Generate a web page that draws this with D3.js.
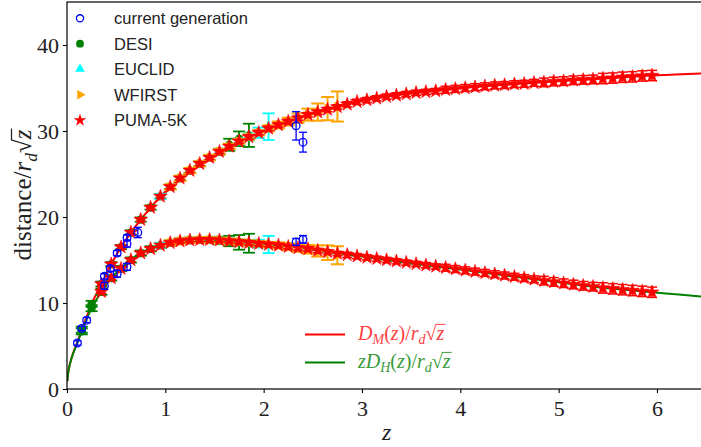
<!DOCTYPE html>
<html><head><meta charset="utf-8">
<script src="https://cdn.jsdelivr.net/npm/d3@7"></script>
<style>body{margin:0;background:#fff}svg{display:block}</style>
</head><body>
<svg id="c" width="701" height="447"></svg>
<script>
// ---------- data ----------
const xTicks = [0,1,2,3,4,5,6];
const yTicks = [0,10,20,30,40];
const legendNames = ["current generation","DESI","EUCLID","WFIRST","PUMA-5K"];

// theory curves
const lineZ  = [0.003,0.01,0.02,0.05,0.1,0.15,0.2,0.25,0.3,0.35,0.45,0.55,0.65,0.75,0.85,0.95,1.05,1.15,1.25,1.35,1.45,1.55,1.65,1.75,1.85,2.0,2.25,2.5,2.75,3.0,3.25,3.5,3.75,4.0,4.5,5.0,5.5,6.0,6.5];
const lineDM = [0.9,1.7,2.4,3.75,5.3,6.9,8.4,9.9,11.1,12.2,14.5,16.5,18.2,19.7,21.1,22.4,23.5,24.5,25.4,26.2,26.9,27.6,28.2,28.8,29.3,30.05,31.1,32.05,32.8,33.5,34.0,34.37,34.65,34.95,35.4,35.78,36.12,36.47,36.7];
const lineDH = [0.9,1.7,2.4,3.7,5.2,6.7,8.1,9.4,10.4,11.3,12.9,14.0,15.0,15.8,16.3,16.7,17.0,17.2,17.3,17.35,17.35,17.3,17.2,17.1,17.0,16.85,16.6,16.2,15.75,15.4,15.0,14.6,14.25,13.9,13.15,12.4,11.7,11.2,10.7];

// PUMA-5K
const pumaZ  = [0.35,0.45,0.55,0.65,0.75,0.85,0.95,1.05,1.15,1.25,1.35,1.45,1.55,1.65,1.75,1.85,1.95,2.05,2.15,2.25,2.35,2.45,2.55,2.65,2.75,2.85,2.95,3.05,3.15,3.25,3.35,3.45,3.55,3.65,3.75,3.85,3.95,4.05,4.15,4.25,4.35,4.45,4.55,4.65,4.75,4.85,4.95,5.05,5.15,5.25,5.35,5.45,5.55,5.65,5.75,5.85,5.95];
const pumaDM = [12.2,14.5,16.5,18.2,19.7,21.1,22.4,23.5,24.5,25.4,26.2,26.9,27.6,28.2,28.8,29.3,29.8,30.3,30.7,31.1,31.5,31.9,32.2,32.5,32.8,33.1,33.4,33.6,33.8,34.0,34.15,34.3,34.45,34.55,34.65,34.8,34.9,35.0,35.1,35.2,35.3,35.35,35.45,35.5,35.6,35.65,35.75,35.8,35.9,35.95,36.0,36.1,36.15,36.25,36.3,36.4,36.45];
const pumaDH = [11.3,12.9,14.0,15.0,15.8,16.3,16.7,17.0,17.2,17.3,17.35,17.35,17.3,17.2,17.1,17.0,16.9,16.8,16.7,16.55,16.4,16.3,16.1,15.95,15.75,15.6,15.45,15.3,15.15,15.0,14.85,14.7,14.55,14.4,14.25,14.1,13.95,13.8,13.65,13.5,13.35,13.2,13.05,12.9,12.75,12.6,12.45,12.3,12.15,12.0,11.9,11.75,11.65,11.55,11.45,11.35,11.25];
const pumaErrDM = [0.2,0.2,0.2,0.2,0.2,0.2,0.2,0.2,0.2,0.2,0.2,0.2,0.2,0.2,0.2,0.25,0.25,0.25,0.25,0.25,0.25,0.25,0.25,0.25,0.25,0.3,0.3,0.3,0.3,0.3,0.3,0.3,0.3,0.3,0.3,0.4,0.4,0.4,0.4,0.4,0.4,0.4,0.4,0.4,0.4,0.5,0.5,0.5,0.5,0.5,0.5,0.6,0.6,0.6,0.6,0.6,0.6];
const pumaErrDH = [0.2,0.2,0.2,0.2,0.2,0.2,0.2,0.2,0.2,0.2,0.2,0.2,0.2,0.2,0.2,0.25,0.25,0.25,0.25,0.25,0.25,0.25,0.25,0.25,0.25,0.3,0.3,0.3,0.3,0.3,0.3,0.3,0.3,0.3,0.3,0.4,0.4,0.4,0.4,0.4,0.4,0.4,0.4,0.4,0.4,0.5,0.5,0.5,0.5,0.5,0.5,0.6,0.6,0.6,0.6,0.6,0.6];

// DESI
const desiZ  = [0.15,0.25,0.35,0.45,0.55,0.65,0.75,0.85,0.95,1.05,1.15,1.25,1.35,1.45,1.55,1.65,1.75,1.85];
const desiDM = [6.9,9.9,12.2,14.5,16.5,18.2,19.7,21.1,22.4,23.5,24.5,25.4,26.2,26.9,27.6,28.4,29.1,29.5];
const desiErrDM = [0.35,0.35,0.3,0.25,0.25,0.25,0.25,0.25,0.25,0.25,0.25,0.25,0.3,0.3,0.35,0.7,0.85,1.35];
const desiDH = [6.7,9.4,11.3,12.9,14.0,15.0,15.8,16.3,16.7,17.0,17.2,17.3,17.35,17.35,17.3,17.2,17.05,16.95];
const desiErrDH = [0.35,0.35,0.35,0.3,0.3,0.3,0.3,0.3,0.3,0.3,0.3,0.3,0.3,0.35,0.4,0.6,0.85,1.1];

// EUCLID
const euclidZ  = [0.95,1.05,1.15,1.25,1.35,1.45,1.55,1.65,1.75,1.85,1.95,2.05];
const euclidDM = [22.4,23.5,24.5,25.4,26.2,26.9,27.6,28.2,28.8,29.3,29.8,30.5];
const euclidErrDM = [0.3,0.3,0.3,0.3,0.3,0.3,0.3,0.3,0.35,0.4,0.6,1.55];
const euclidDH = [16.7,17.0,17.2,17.3,17.35,17.35,17.3,17.2,17.1,17.0,16.9,16.8];
const euclidErrDH = [0.3,0.3,0.3,0.3,0.3,0.3,0.3,0.3,0.3,0.35,0.45,1.0];

// WFIRST
const wfirstZ  = [1.05,1.15,1.25,1.35,1.45,1.55,1.65,1.75,1.85,1.95,2.05,2.15,2.25,2.35,2.45,2.55,2.65,2.75];
const wfirstDM = [23.5,24.5,25.4,26.2,26.9,27.6,28.2,28.8,29.3,29.8,30.3,30.7,31.1,31.5,31.9,32.2,32.6,32.85];
const wfirstErrDM = [0.3,0.3,0.3,0.3,0.3,0.3,0.3,0.3,0.3,0.3,0.35,0.4,0.45,0.55,0.7,1.0,1.35,1.75];
const wfirstDH = [17.0,17.2,17.3,17.35,17.35,17.3,17.2,17.1,17.0,16.9,16.8,16.7,16.55,16.4,16.25,16.05,15.85,15.55];
const wfirstErrDH = [0.3,0.3,0.3,0.3,0.3,0.3,0.3,0.3,0.3,0.3,0.3,0.35,0.4,0.45,0.5,0.65,0.85,1.05];

// current generation
const curZ   = [0.106,0.15,0.2,0.38,0.38,0.44,0.51,0.51,0.61,0.61,0.61,0.72,2.33,2.40,2.33,2.40];
const curV   = [5.35,7.05,8.0,13.1,12.0,14.0,15.8,13.4,16.9,17.6,14.2,18.2,30.6,28.7,17.1,17.4];
const curErr = [0.25,0.25,0.3,0.3,0.4,0.3,0.3,0.4,0.4,0.3,0.4,0.6,1.65,1.15,0.4,0.45];

// ---------- drawing ----------
const svg = d3.select("#c");
const X0 = 67, PX = 98.33;
const x = d3.scaleLinear().domain([0,6.5]).range([X0, X0+6.5*PX]);
const y = d3.scaleLinear().domain([0,45]).range([389, 2]);
const serif = "'Liberation Serif','DejaVu Serif',serif";
const sans = "'Liberation Sans',Arial,sans-serif";

svg.append("defs").append("clipPath").attr("id","clip")
  .append("rect").attr("x",x(0)).attr("y",y(45)).attr("width",x(6.5)-x(0)).attr("height",y(0)-y(45));

const plot = svg.append("g").attr("clip-path","url(#clip)");

// theory lines
const lineGen = d3.line().x(d=>x(d[0])).y(d=>y(d[1])).curve(d3.curveMonotoneX);
plot.append("path").attr("d", lineGen(d3.zip(lineZ, lineDM)))
  .attr("fill","none").attr("stroke","#ff0000").attr("stroke-width",2);
plot.append("path").attr("d", lineGen(d3.zip(lineZ, lineDH)))
  .attr("fill","none").attr("stroke","#008000").attr("stroke-width",2);

function errbars(zs, vs, es, color, cap, sw, op) {
  const g = plot.append("g").attr("stroke",color).attr("stroke-width",sw).attr("opacity",op||1);
  zs.forEach((z,i)=>{
    const cx = x(z), y1 = y(vs[i]-es[i]), y2 = y(vs[i]+es[i]);
    g.append("line").attr("x1",cx).attr("x2",cx).attr("y1",y1).attr("y2",y2);
    g.append("line").attr("x1",cx-cap).attr("x2",cx+cap).attr("y1",y1).attr("y2",y1);
    g.append("line").attr("x1",cx-cap).attr("x2",cx+cap).attr("y1",y2).attr("y2",y2);
  });
}
function markers(zs, vs, sym, size, fill, stroke, sw, rot) {
  const g = plot.append("g");
  zs.forEach((z,i)=>{
    g.append("path").attr("d", d3.symbol().type(sym).size(size)())
      .attr("transform",`translate(${x(z)},${y(vs[i])}) rotate(${rot||0})`)
      .attr("fill",fill).attr("stroke",stroke).attr("stroke-width",sw||0);
  });
}

// DESI
errbars(desiZ, desiDM, desiErrDM, "#008000", 6, 1.8);
errbars(desiZ, desiDH, desiErrDH, "#008000", 6, 1.8);
markers(desiZ, desiDM, d3.symbolCircle, 55, "#008000", "none");
markers(desiZ, desiDH, d3.symbolCircle, 55, "#008000", "none");
// EUCLID
errbars(euclidZ, euclidDM, euclidErrDM, "#00ffff", 6, 1.8);
errbars(euclidZ, euclidDH, euclidErrDH, "#00ffff", 6, 1.8);
markers(euclidZ, euclidDM, d3.symbolTriangle, 45, "#00ffff", "none");
markers(euclidZ, euclidDH, d3.symbolTriangle, 45, "#00ffff", "none");
// WFIRST
errbars(wfirstZ, wfirstDM, wfirstErrDM, "#ffa500", 6.5, 2);
errbars(wfirstZ, wfirstDH, wfirstErrDH, "#ffa500", 6.5, 2);
markers(wfirstZ, wfirstDM, d3.symbolTriangle, 45, "#ffa500", "none", 0, 90);
markers(wfirstZ, wfirstDH, d3.symbolTriangle, 45, "#ffa500", "none", 0, 90);
// PUMA
errbars(pumaZ, pumaDM, pumaErrDM, "#ff0000", 5, 1.5);
errbars(pumaZ, pumaDH, pumaErrDH, "#ff0000", 5, 1.5);
markers(pumaZ, pumaDM, d3.symbolStar, 58, "#ff0000", "#ff0000", 0.6);
markers(pumaZ, pumaDH, d3.symbolStar, 58, "#ff0000", "#ff0000", 0.6);
// current generation
errbars(curZ, curV, curErr, "#0000ff", 4, 1.3);
markers(curZ, curV, d3.symbolCircle, 46, "none", "#0000ff", 1.3);

// frame
svg.append("rect").attr("x",x(0)).attr("y",y(45)).attr("width",x(6.5)-x(0)).attr("height",y(0)-y(45))
  .attr("fill","none").attr("stroke","#000").attr("stroke-width",1.2);

// axes
const xAxis = svg.append("g").attr("transform",`translate(0,${y(0)})`)
  .call(d3.axisBottom(x).tickValues(xTicks).tickSize(4).tickPadding(6).tickFormat(d=>String(d)));
const yAxis = svg.append("g").attr("transform",`translate(${x(0)},0)`)
  .call(d3.axisLeft(y).tickValues(yTicks).tickSize(4).tickPadding(4).tickFormat(d=>String(d)));
[xAxis,yAxis].forEach(a=>{
  a.select(".domain").remove();
  a.selectAll(".tick line").attr("stroke","#000").attr("stroke-width",1.1);
  a.selectAll(".tick text").attr("font-family",serif).attr("font-size",22).attr("fill","#222");
});
xAxis.selectAll(".tick text").attr("dy","0.75em");
yAxis.selectAll(".tick text").attr("dy","0.33em");

// x label
svg.append("text").attr("x",x(3.25)).attr("y",440).attr("text-anchor","middle")
  .attr("font-family",serif).attr("font-style","italic").attr("font-size",24).attr("fill","#222").text("z");

// math text helper
function mathText(g, parts, fs, color, anchorX, baseY, anchor) {
  const t = g.append("text").attr("x",anchorX).attr("y",baseY).attr("font-family",serif)
    .attr("font-size",fs).attr("fill",color);
  parts.forEach(p=>{
    const ts = t.append("tspan").text(p.t);
    if (p.it) ts.attr("font-style","italic");
    if (p.sub) ts.attr("font-size",fs*0.7).attr("dy",fs*0.22);
    if (p.up) ts.attr("dy",-fs*0.22);
  });
  if (anchor==="middle") {
    const w = t.node().getComputedTextLength();
    t.attr("x", anchorX - w/2);
  }
  const n = t.text().length;
  const ex = t.node().getEndPositionOfChar(n-1).x;
  const rootEnd = t.node().getEndPositionOfChar(n-2).x;
  g.append("line").attr("x1",rootEnd-1).attr("x2",ex+1)
    .attr("y1",baseY-fs*0.78).attr("y2",baseY-fs*0.78)
    .attr("stroke",color).attr("stroke-width",fs*0.05);
  return t;
}

// y label
const yl = svg.append("g").attr("transform","translate(31,195) rotate(-90)");
mathText(yl, [{t:"distance/"},{t:"r",it:true},{t:"d",it:true,sub:true},{t:"√",up:true},{t:"z",it:true}], 25, "#222", 0, 0, "middle");

// legend 1 (markers)
const legY = [18.3,43.7,69,94.8,120.3];
const lg = svg.append("g");
legendNames.forEach((name,i)=>{
  lg.append("text").attr("x",114).attr("y",legY[i]+6).attr("font-family",sans).attr("font-size",16.5)
    .attr("fill","#222").text(name);
});
const lm = (sym,size,fill,stroke,sw,yy,rot)=>lg.append("path").attr("d",d3.symbol().type(sym).size(size)())
  .attr("transform",`translate(80,${yy}) rotate(${rot||0})`).attr("fill",fill).attr("stroke",stroke).attr("stroke-width",sw||0);
lm(d3.symbolCircle,40,"none","#0000ff",1.3,legY[0]);
lm(d3.symbolCircle,48,"#008000","none",0,legY[1]);
lm(d3.symbolTriangle,40,"#00ffff","none",0,legY[2]);
lm(d3.symbolTriangle,40,"#ffa500","none",0,legY[3],90);
lm(d3.symbolStar,50,"#ff0000","none",0,legY[4]);

// legend 2 (lines)
const l2 = svg.append("g");
l2.append("line").attr("x1",305).attr("x2",345).attr("y1",334.5).attr("y2",334.5).attr("stroke","#ff0000").attr("stroke-width",2);
l2.append("line").attr("x1",305).attr("x2",345).attr("y1",362.5).attr("y2",362.5).attr("stroke","#008000").attr("stroke-width",2);
mathText(l2, [{t:"D",it:true},{t:"M",it:true,sub:true},{t:"(",up:true},{t:"z",it:true},{t:")/"},{t:"r",it:true},{t:"d",it:true,sub:true},{t:"√",up:true},{t:"z",it:true}], 20, "#ff4040", 358, 340);
mathText(l2, [{t:"zD",it:true},{t:"H",it:true,sub:true},{t:"(",up:true},{t:"z",it:true},{t:")/"},{t:"r",it:true},{t:"d",it:true,sub:true},{t:"√",up:true},{t:"z",it:true}], 20, "#3a9a3a", 358, 368);
</script>
</body></html>
